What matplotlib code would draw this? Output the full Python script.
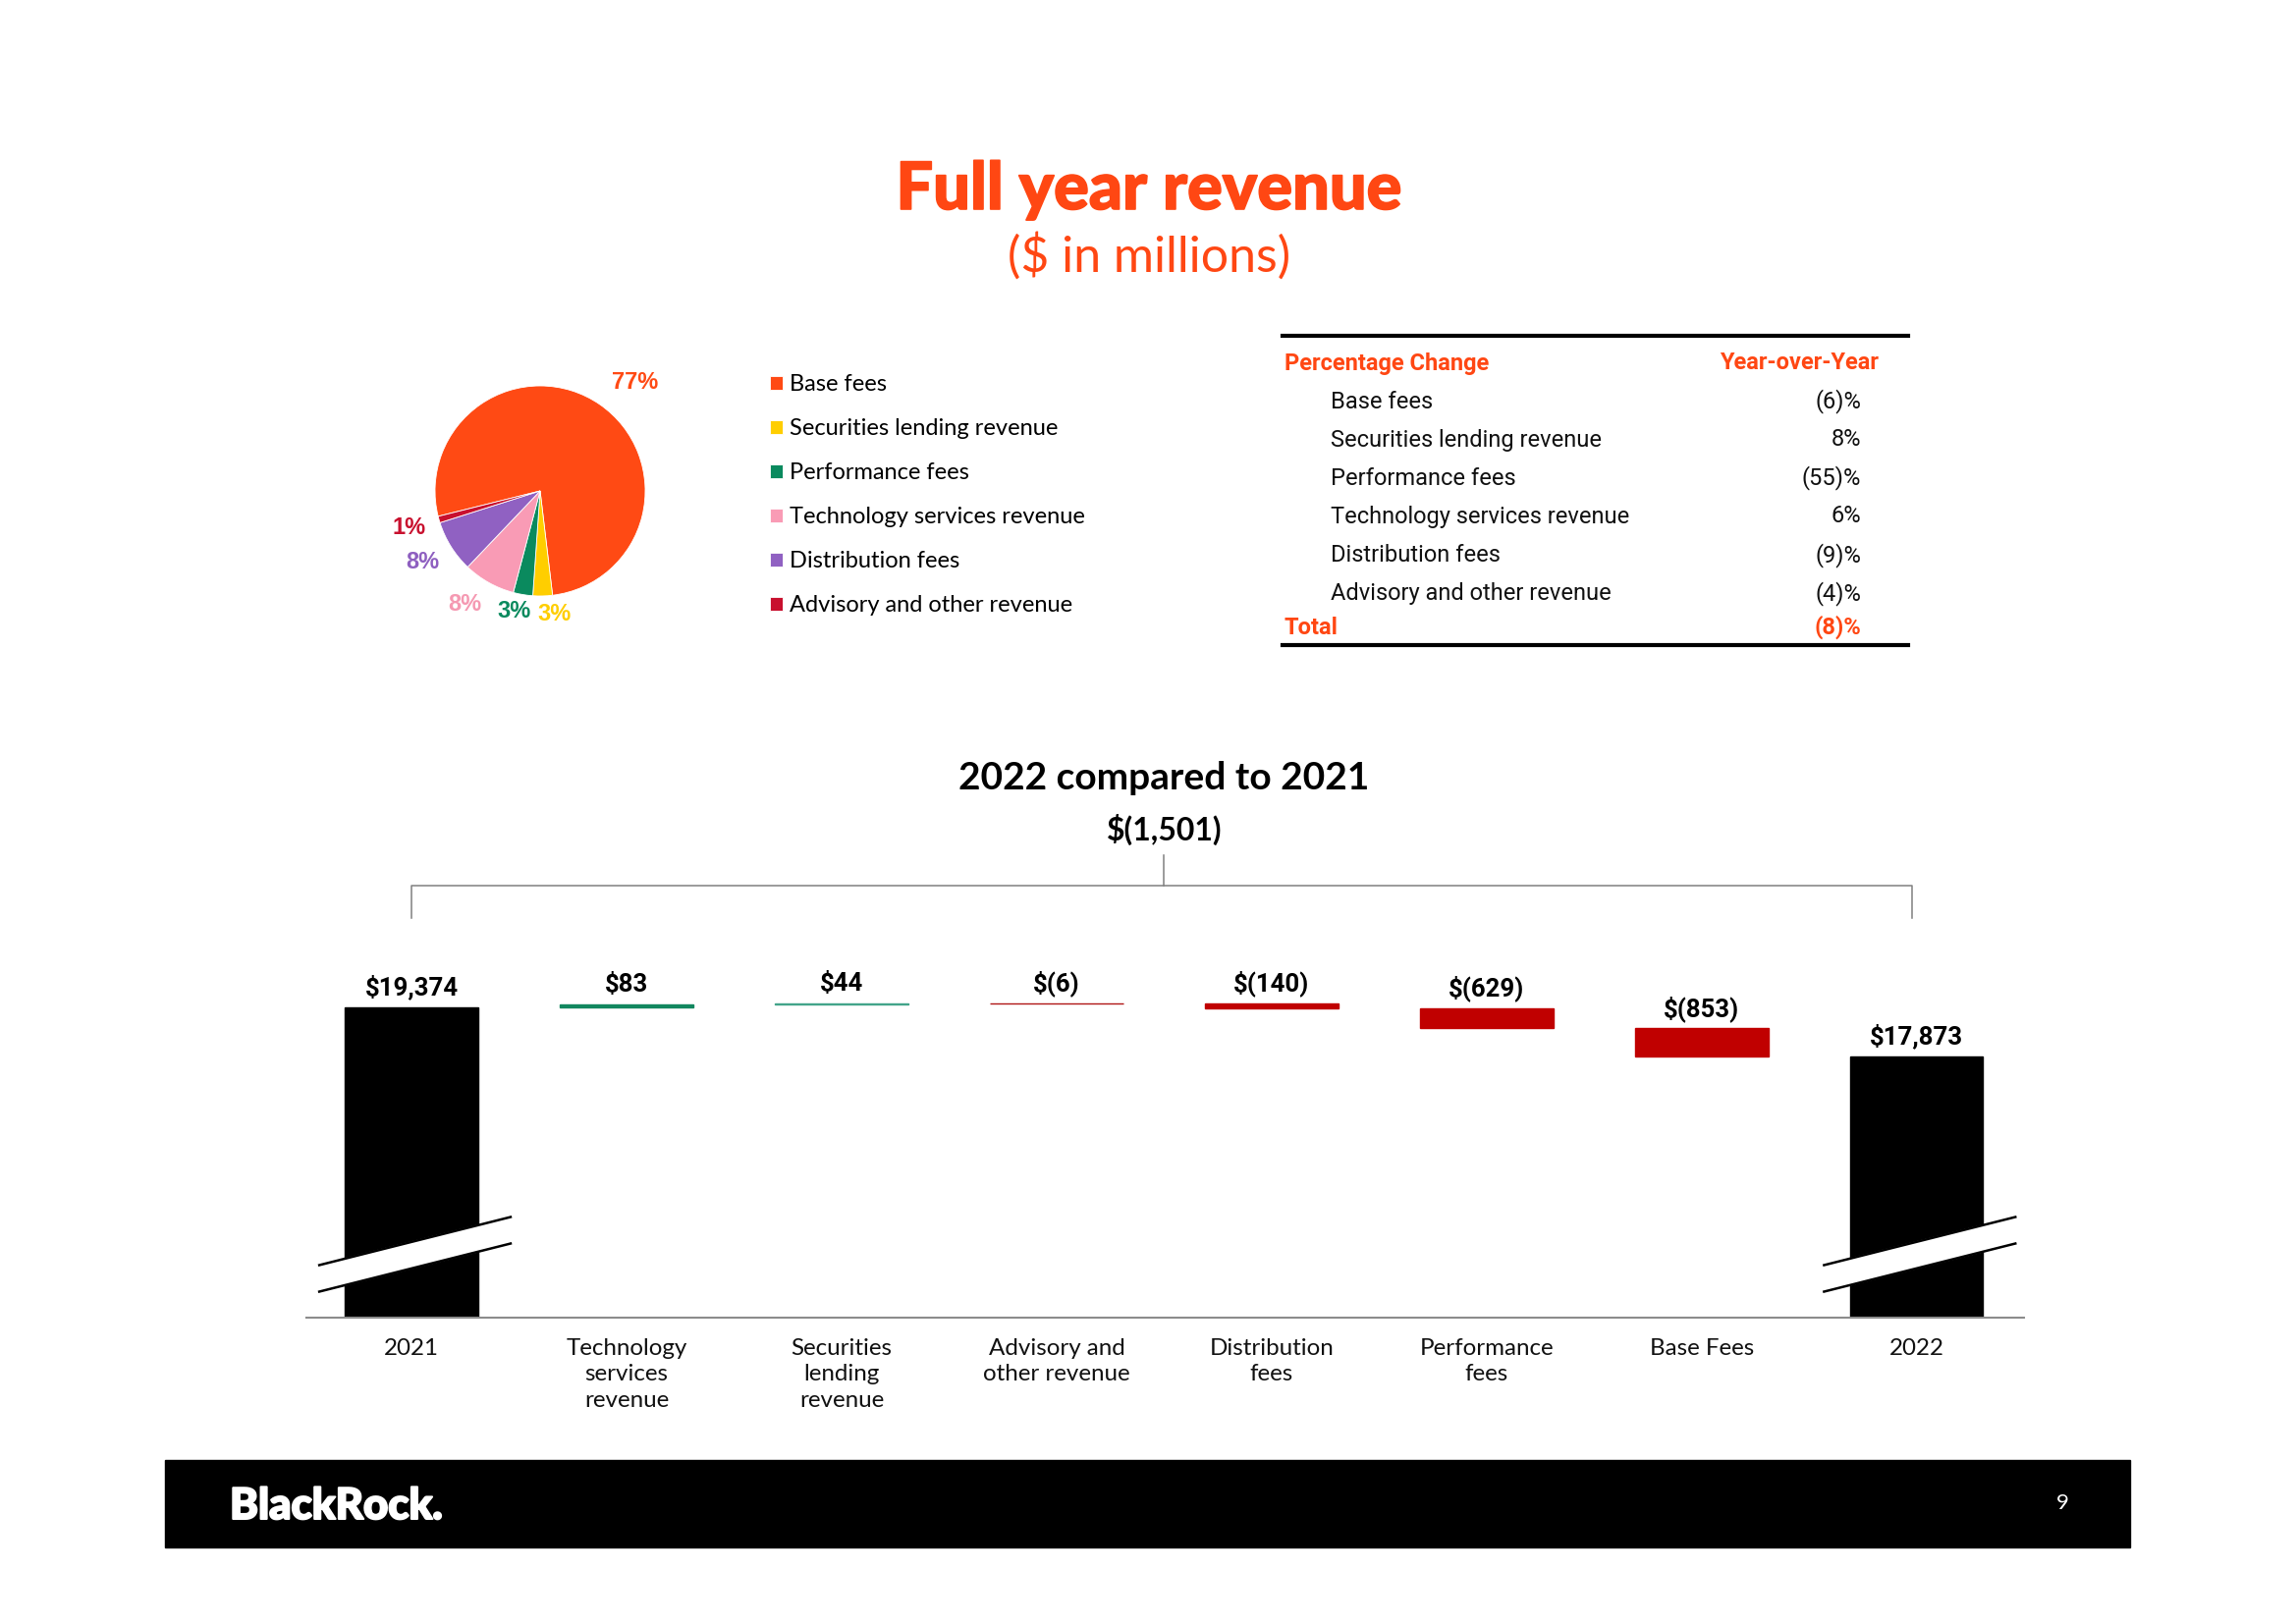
import matplotlib
matplotlib.use("Agg")
import numpy as np
import matplotlib.pyplot as plt
import matplotlib.patheffects as pe
from matplotlib.lines import Line2D
from matplotlib.patches import Rectangle, Polygon

# ---- data ----
mix_names = ["Base fees", "Securities lending revenue", "Performance fees",
             "Technology services revenue", "Distribution fees", "Advisory and other revenue"]
mix_pct = [77, 3, 3, 8, 8, 1]
mix_colors = ["#FF4A14", "#FFCE00", "#0A8A5E", "#F99BB5", "#9061C2", "#C8102E"]
mix_label_colors = ["#FF4A14", "#FFCE00", "#0A8A5E", "#F599B2", "#8E5FC0", "#C8102E"]

yoy_rows = ["Base fees", "Securities lending revenue", "Performance fees",
            "Technology services revenue", "Distribution fees", "Advisory and other revenue"]
yoy_values = ["(6)%", "8%", "(55)%", "6%", "(9)%", "(4)%"]
yoy_total = "(8)%"

wf_categories = ["2021", "Technology\nservices\nrevenue", "Securities\nlending\nrevenue",
                 "Advisory and\nother revenue", "Distribution\nfees", "Performance\nfees",
                 "Base Fees", "2022"]
wf_start = 19374
wf_changes = [83, 44, -6, -140, -629, -853]
wf_end = 17873
wf_colors = ["#000000", "#12875F", "#43A48A", "#B01515", "#C00000", "#C00000", "#C00000", "#000000"]
wf_total_change = "$(1,501)"

ORANGE = "#FF4713"
W, H = 2338, 1653


def fx(px):
    return px / W


def fy(py):
    return 1 - py / H


def money(v):
    return f"${v:,}" if v >= 0 else f"$({-v:,})"


fig = plt.figure(figsize=(W / 100, H / 100), dpi=100)
SANS = "Lato"

# titles
fig.text(fx(1170), fy(194), "Full year revenue", ha="center", va="center",
         fontsize=48, fontweight="black", color=ORANGE, family=SANS,
         path_effects=[pe.withStroke(linewidth=1.2, foreground=ORANGE)])
fig.text(fx(1170), fy(261), "($ in millions)", ha="center", va="center",
         fontsize=36, color=ORANGE, family=SANS)

# ---- pie ----
cx, cy, r = 550, 500, 107
axp = fig.add_axes([fx(cx - r), fy(cy + r), 2 * r / W, 2 * r / H])
wedges, _ = axp.pie(mix_pct, colors=mix_colors, startangle=194, counterclock=False,
                    wedgeprops=dict(edgecolor="white", linewidth=0.6))
axp.set_xlim(-1, 1)
axp.set_ylim(-1, 1)
label_dist = [1.37, 1.18, 1.17, 1.30, 1.31, 1.30]
label_turn = [-6.4, 5.0, -3.0, -4.4, -1.0, 0.0]
for w, p, c, d, t in zip(wedges, mix_pct, mix_label_colors, label_dist, label_turn):
    th = np.deg2rad((w.theta1 + w.theta2) / 2 + t)
    axp.text(d * np.cos(th), d * np.sin(th), f"{p}%", ha="center", va="center",
             fontsize=17, fontweight="bold", color=c, family="Liberation Sans")

fig.legend(wedges, mix_names, loc="upper left", bbox_to_anchor=(fx(784), fy(381)),
           frameon=False, prop=dict(family=SANS, size=17),
           handlelength=0.55, handleheight=0.55, handletextpad=0.3,
           labelspacing=1.02, borderpad=0, borderaxespad=0)

# ---- table ----
TF = "Roboto"
TS = 17
x0, x1 = 1306, 1943
fig.add_artist(Line2D([fx(x0), fx(x1)], [fy(342)] * 2, color="black", lw=3))
fig.add_artist(Line2D([fx(x0), fx(x1)], [fy(657)] * 2, color="black", lw=3))
fig.text(fx(1308), fy(370), "Percentage Change", ha="left", va="center",
         fontsize=TS, fontweight="bold", color=ORANGE, family=TF)
fig.text(fx(1913), fy(370), "Year-over-Year", ha="right", va="center",
         fontsize=TS, fontweight="bold", color=ORANGE, family=TF)
row_y = [409, 448, 487, 526, 566, 605]
for name, val, yy in zip(yoy_rows, yoy_values, row_y):
    fig.text(fx(1355), fy(yy), name, ha="left", va="center", fontsize=TS,
             color="#111111", family=TF)
    fig.text(fx(1895), fy(yy), val, ha="right", va="center", fontsize=TS,
             color="#111111", family=TF)
fig.text(fx(1308), fy(639), "Total", ha="left", va="center", fontsize=TS,
         fontweight="bold", color=ORANGE, family=TF)
fig.text(fx(1895), fy(639), yoy_total, ha="right", va="center", fontsize=TS,
         fontweight="bold", color=ORANGE, family=TF)

# ---- waterfall ----
ax_top, ax_bot = 760, 1342
ax = fig.add_axes([fx(312), fy(ax_bot), (2061 - 312) / W, (ax_bot - ax_top) / H])
ybot = 9885
ax.set_ylim(ybot, ybot + (ax_bot - ax_top) * 30.02)
ax.set_xlim(-0.49, 7.5)

x = np.arange(len(wf_categories))
bottoms, heights, tops, labels = [0], [wf_start], [wf_start], [money(wf_start)]
level = wf_start
for c in wf_changes:
    new = level + c
    bottoms.append(min(level, new))
    heights.append(abs(c))
    tops.append(max(level, new))
    labels.append(money(c))
    level = new
bottoms.append(0)
heights.append(wf_end)
tops.append(wf_end)
labels.append(money(wf_end))

ax.bar(x, heights, bottom=bottoms, width=0.62, color=wf_colors,
       edgecolor=wf_colors, linewidth=1.0)
for xi, t, lab in zip(x, tops, labels):
    ax.annotate(lab, (xi, t), xytext=(0, 14.5), textcoords="offset points",
                ha="center", va="center", fontsize=18.5, fontweight="bold",
                family=TF, color="black")

for s in ["top", "right", "left"]:
    ax.spines[s].set_visible(False)
ax.spines["bottom"].set_color("#8C8C8C")
ax.spines["bottom"].set_linewidth(1.5)
ax.set_yticks([])
ax.set_xticks(x, wf_categories)
ax.tick_params(axis="x", length=0, pad=15)
for t in ax.get_xticklabels():
    t.set_fontsize(17.4)
    t.set_family(SANS)
    t.set_linespacing(1.33)
    t.set_color("#111111")

# axis break marks on the two total bars
tr = ax.get_xaxis_transform()
hpx = ax_bot - ax_top
for xi in (x[0], x[-1]):
    xl, xr = xi - 0.43, xi + 0.46
    yl, yr, th = 40 / hpx, 89 / hpx, 27 / hpx
    ax.add_patch(Polygon([[xl, yl - th / 2], [xr, yr - th / 2], [xr, yr + th / 2], [xl, yl + th / 2]],
                         closed=True, transform=tr, color="white", zorder=3, clip_on=False))
    for off in (-th / 2, th / 2):
        ax.add_line(Line2D([xl, xr], [yl + off, yr + off], transform=tr, color="black",
                           lw=1.8, zorder=4, clip_on=False))

# bracket
gy = (ax_bot - 902) / hpx
ax.add_line(Line2D([x[0], x[0], x[-1] - 0.02, x[-1] - 0.02],
                   [(ax_bot - 935) / hpx, gy, gy, (ax_bot - 935) / hpx],
                   transform=tr, color="#808080", lw=1.1, clip_on=False))
mid = (x[0] + x[-1]) / 2
ax.add_line(Line2D([mid, mid], [gy, (ax_bot - 871) / hpx], transform=tr,
                   color="#808080", lw=1.1, clip_on=False))
ax.text(mid, (ax_bot - 845) / hpx, wf_total_change, transform=tr, ha="center", va="center",
        fontsize=23, fontweight="bold", family=SANS)
ax.text(mid, (ax_bot - 792) / hpx, "2022 compared to 2021", transform=tr, ha="center",
        va="center", fontsize=28, fontweight="bold", family=SANS)

# ---- footer ----
fig.add_artist(Rectangle((fx(168), fy(1576)), (2169 - 168) / W, (1576 - 1487) / H,
                         transform=fig.transFigure, color="black"))
fig.text(fx(234), fy(1534), "BlackRock.", ha="left", va="center", fontsize=31.5,
         fontweight="black", color="white", family=SANS,
         path_effects=[pe.withStroke(linewidth=1.5, foreground="white")])
fig.text(fx(2100), fy(1531), "9", ha="center", va="center", fontsize=16,
         color="white", family=SANS)

fig.savefig("out.png", dpi=100)
